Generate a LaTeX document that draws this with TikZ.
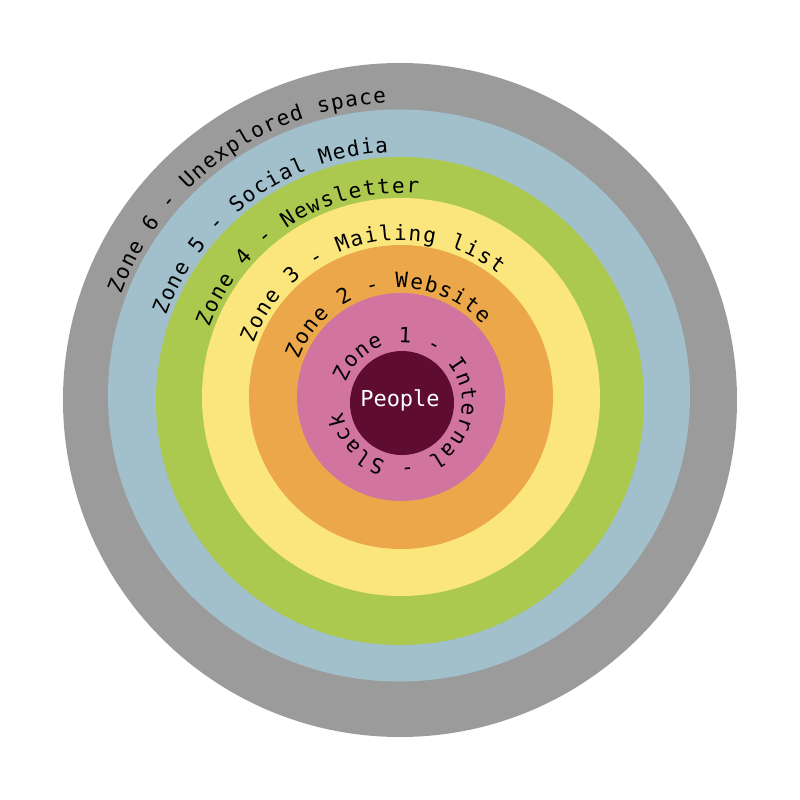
\documentclass[tikz,border=0pt]{standalone}
\usepackage{fontspec}
\usetikzlibrary{decorations.text}
\newfontfamily\zonefont{DejaVu Sans Mono}
\newcommand\zonesize{\zonefont\fontsize{12pt}{14pt}\selectfont}
\definecolor{zonegrey}{HTML}{9B9B9B}
\definecolor{zoneblue}{HTML}{A1C0CC}
\definecolor{zonegreen}{HTML}{AAC94E}
\definecolor{zoneyellow}{HTML}{FBE67E}
\definecolor{zoneorange}{HTML}{EBA74A}
\definecolor{zonepink}{HTML}{D174A0}
\definecolor{zonecore}{HTML}{5E0D31}
\tikzset{
  zonetext/.style={decorate, decoration={text along path, text align=fit to path, text={|\zonesize|#1}}}
}
\begin{document}
\begin{tikzpicture}[x=0.2mm, y=0.2mm]
   \useasboundingbox (-400,-400) rectangle (400,400);
   % rings, outermost first
   \foreach \c/\x/\y/\rx/\ry in
     { zonegrey/0/0/337/337,
       zoneblue/-1/4.5/291/286,
       zonegreen/0/-1/244/244,
       zoneyellow/1/3/199/199,
       zoneorange/1/3/152/152,
       zonepink/1/3/104/104,
       zonecore/2/-3/52/52
     }
     \fill[\c] (\x,\y) ellipse[x radius=\rx, y radius=\ry];
   \node[text=white, font=\zonefont\fontsize{12.5pt}{14pt}\selectfont] (people) at (0,0) {People};
   % labels, all starting at 160 degrees
   \path[zonetext={Zone 6 - Unexplored space}] (-1,4.5) ++(160:296) arc[start angle=160, end angle=92.5, x radius=296, y radius=291];
   \path[zonetext={Zone 5 - Social Media}] (0,-1) ++(160:249) arc[start angle=160, end angle=92.7, radius=249];
   \path[zonetext={Zone 4 - Newsletter}] (1,3) ++(160:204) arc[start angle=160, end angle=85, radius=204];
   \path[zonetext={Zone 3 - Mailing list}] (1,3) ++(160:157) arc[start angle=160, end angle=51.6, radius=157];
   \path[zonetext={Zone 2 - Website}] (1,3) ++(160:109) arc[start angle=160, end angle=41.6, radius=109];
   \path[zonetext={Zone 1 - Internal - Slack}] (2,-3) ++(160:60) arc[start angle=160, end angle=-171, radius=60];
\end{tikzpicture}
\end{document}
